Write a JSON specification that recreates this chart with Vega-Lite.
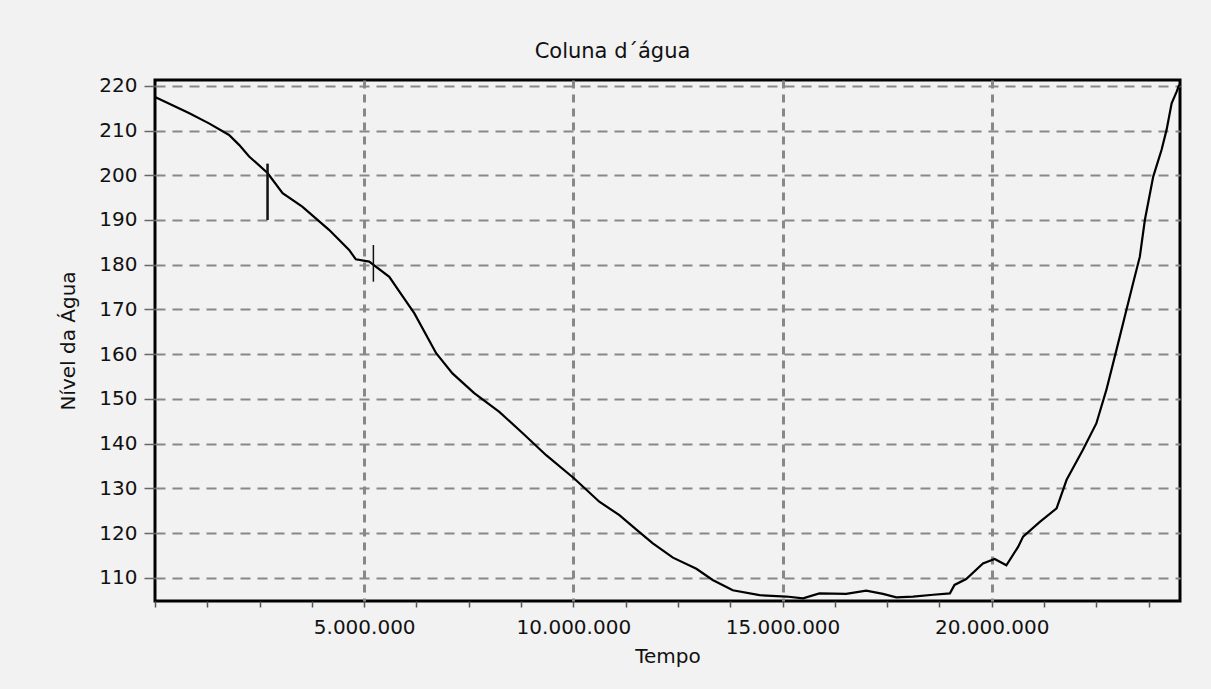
{
  "$schema": "https://vega.github.io/schema/vega-lite/v6.json",
  "autosize": "none",
  "width": 1025,
  "height": 521,
  "padding": {"left": 155, "top": 80, "right": 31, "bottom": 88},
  "background": "#f2f2f2",
  "title": {
    "text": "Coluna d´água",
    "font": "DejaVu Sans",
    "fontSize": 21,
    "fontWeight": "normal",
    "color": "#111",
    "anchor": "middle",
    "dx": -55,
    "offset": 14
  },
  "config": {
    "view": {"stroke": "#000", "strokeWidth": 3, "fill": "#f2f2f2"},
    "axis": {
      "labelFont": "DejaVu Sans",
      "labelFontSize": 20,
      "labelColor": "#111",
      "titleFont": "DejaVu Sans",
      "titleFontSize": 20,
      "titleFontWeight": "normal",
      "titleColor": "#111",
      "gridColor": "#888",
      "gridDash": [10, 7],
      "gridWidth": 2,
      "gridOpacity": 1,
      "domain": false
    }
  },
  "datasets": {
    "serie": [
      {"t": 0, "v": 217.5},
      {"t": 810000, "v": 213.9},
      {"t": 1290000, "v": 211.6},
      {"t": 1770000, "v": 209.0},
      {"t": 2010000, "v": 206.8},
      {"t": 2250000, "v": 204.2},
      {"t": 2690000, "v": 200.5},
      {"t": 3050000, "v": 196.0},
      {"t": 3520000, "v": 193.0},
      {"t": 4160000, "v": 187.8},
      {"t": 4640000, "v": 183.3},
      {"t": 4800000, "v": 181.2},
      {"t": 5120000, "v": 180.7},
      {"t": 5600000, "v": 177.3},
      {"t": 5920000, "v": 172.9},
      {"t": 6200000, "v": 169.1},
      {"t": 6720000, "v": 160.2},
      {"t": 7110000, "v": 155.7},
      {"t": 7630000, "v": 151.3},
      {"t": 8230000, "v": 147.1},
      {"t": 8790000, "v": 142.3},
      {"t": 9350000, "v": 137.4},
      {"t": 10020000, "v": 132.2},
      {"t": 10620000, "v": 127.0},
      {"t": 11100000, "v": 124.0},
      {"t": 11500000, "v": 120.8},
      {"t": 11900000, "v": 117.7},
      {"t": 12380000, "v": 114.5},
      {"t": 12940000, "v": 112.0},
      {"t": 13330000, "v": 109.5},
      {"t": 13810000, "v": 107.2},
      {"t": 14450000, "v": 106.1},
      {"t": 15090000, "v": 105.8},
      {"t": 15490000, "v": 105.4},
      {"t": 15880000, "v": 106.5},
      {"t": 16520000, "v": 106.4},
      {"t": 17000000, "v": 107.1},
      {"t": 17400000, "v": 106.4},
      {"t": 17720000, "v": 105.6},
      {"t": 18120000, "v": 105.8},
      {"t": 18600000, "v": 106.2},
      {"t": 19000000, "v": 106.5},
      {"t": 19110000, "v": 108.4},
      {"t": 19390000, "v": 109.7},
      {"t": 19790000, "v": 113.2},
      {"t": 20070000, "v": 114.2},
      {"t": 20350000, "v": 112.8},
      {"t": 20630000, "v": 116.9},
      {"t": 20750000, "v": 119.2},
      {"t": 21150000, "v": 122.5},
      {"t": 21550000, "v": 125.5},
      {"t": 21790000, "v": 131.9},
      {"t": 22180000, "v": 138.6},
      {"t": 22500000, "v": 144.5},
      {"t": 22740000, "v": 152.0},
      {"t": 22980000, "v": 160.9},
      {"t": 23180000, "v": 168.4},
      {"t": 23380000, "v": 175.9},
      {"t": 23540000, "v": 181.8},
      {"t": 23660000, "v": 190.0},
      {"t": 23860000, "v": 199.7},
      {"t": 24060000, "v": 205.7},
      {"t": 24180000, "v": 210.2},
      {"t": 24300000, "v": 216.1},
      {"t": 24420000, "v": 218.7},
      {"t": 24480000, "v": 220.2}
    ],
    "marcas": [
      {"t": 2690000, "v": 190.0, "v2": 202.6, "w": 2.5},
      {"t": 5220000, "v": 176.2, "v2": 184.4, "w": 1.5}
    ]
  },
  "encoding": {
    "x": {
      "field": "t",
      "type": "quantitative",
      "scale": {"domain": [0, 24500000], "nice": false, "zero": false},
      "axis": {
        "title": "Tempo",
        "values": [0, 1250000, 2500000, 3750000, 5000000, 6250000, 7500000, 8750000, 10000000, 11250000, 12500000, 13750000, 15000000, 16250000, 17500000, 18750000, 20000000, 21250000, 22500000, 23750000],
        "labelExpr": "datum.value > 0 && datum.value % 5000000 === 0 ? format(datum.value / 1000000, 'd') + '.000.000' : ''",
        "gridOpacity": {"condition": {"test": "datum.value > 0 && datum.value % 5000000 === 0", "value": 1}, "value": 0},
        "gridDash": [8, 6],
        "gridWidth": 3,
        "tickColor": "#555",
        "tickWidth": 1.5,
        "tickSize": 6,
        "labelPadding": 10,
        "labelFlush": false,
        "labelOverlap": false,
        "titlePadding": 9
      }
    },
    "y": {
      "field": "v",
      "type": "quantitative",
      "scale": {"domain": [104.8, 221.3], "nice": false, "zero": false},
      "axis": {
        "title": "Nível da Água",
        "values": [110, 120, 130, 140, 150, 160, 170, 180, 190, 200, 210, 220],
        "tickColor": "#666",
        "tickWidth": 1.5,
        "tickSize": 11,
        "labelPadding": 7,
        "labelFlush": false,
        "titlePadding": 20
      }
    }
  },
  "layer": [
    {
      "data": {"name": "serie"},
      "mark": {"type": "line", "color": "#000", "strokeWidth": 2.2, "interpolate": "linear"}
    },
    {
      "data": {"name": "marcas"},
      "mark": {"type": "rule", "color": "#111"},
      "encoding": {
        "y2": {"field": "v2"},
        "strokeWidth": {"field": "w", "type": "quantitative", "scale": null, "legend": null}
      }
    }
  ]
}
